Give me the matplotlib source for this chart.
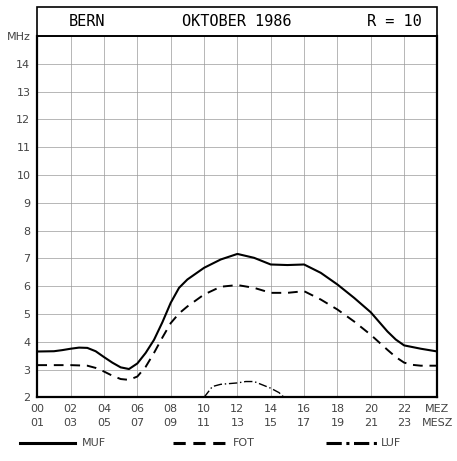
import matplotlib
matplotlib.use("Agg")
from matplotlib import pyplot as plt
from matplotlib.lines import Line2D
from matplotlib.patches import Rectangle

# Stunden (MEZ) und Frequenzen in MHz
muf_h = [0, 1, 1.5, 2, 2.5, 3, 3.5, 4, 4.5, 5, 5.5, 6, 6.5, 7, 7.5, 8, 8.5, 9, 10, 11, 12, 13, 14, 15, 16,
         17, 18, 19, 20, 21, 21.5, 22, 23, 24]
muf = [3.65, 3.66, 3.7, 3.75, 3.79, 3.78, 3.66, 3.45, 3.25, 3.08, 3.02, 3.22, 3.6, 4.07, 4.7, 5.4, 5.94,
       6.24, 6.66, 6.96, 7.16, 7.02, 6.78, 6.76, 6.78, 6.48, 6.06, 5.58, 5.06, 4.37, 4.08, 3.87, 3.75, 3.65]

fot_h = [0, 1, 2, 3, 3.5, 4, 4.5, 5, 5.5, 6, 6.5, 7, 7.5, 8, 8.5, 9, 10, 11, 12, 13, 14, 15, 16, 17, 18,
         19, 20, 21, 21.5, 22, 22.5, 23, 24]
fot = [3.16, 3.16, 3.16, 3.14, 3.06, 2.93, 2.78, 2.66, 2.63, 2.75, 3.1, 3.6, 4.15, 4.67, 5.02, 5.27, 5.7,
       5.98, 6.04, 5.94, 5.76, 5.76, 5.82, 5.52, 5.16, 4.73, 4.25, 3.71, 3.45, 3.25, 3.17, 3.14, 3.14]

luf_h = [10, 10.5, 11, 12, 12.5, 13, 14, 14.5, 14.8]
luf = [2.0, 2.39, 2.47, 2.52, 2.57, 2.57, 2.33, 2.17, 2.0]

xlab = ["00\n01", "02\n03", "04\n05", "06\n07", "08\n09", "10\n11", "12\n13",
        "14\n15", "16\n17", "18\n19", "20\n21", "22\n23", "MEZ\nMESZ"]
ylab = ["2", "3", "4", "5", "6", "7", "8", "9", "10", "11", "12", "13", "14", "MHz"]

fig = plt.figure(figsize=(4.57, 4.61), dpi=100)
ax = fig.add_axes([0.0816, 0.138, 0.8757, 0.784])

ax.plot(muf_h, muf, color="black", lw=1.5, solid_joinstyle="round")
ax.plot(fot_h, fot, color="black", lw=1.4, dashes=(5, 3.5))
ax.plot(luf_h, luf, color="black", lw=1.0, dashes=(6, 2, 1, 2))

ax.set_xlim(0, 24)
ax.set_ylim(2, 15)
ax.set_xticks(range(0, 25, 2))
ax.set_xticklabels(xlab, fontsize=8, color="#444444", linespacing=1.45)
ax.set_yticks(range(2, 16))
ax.set_yticklabels(ylab, fontsize=8, color="#444444")
ax.tick_params(length=0, pad=5)
ax.grid(True, color="#9a9a9a", lw=0.5)
for s in ["left", "bottom", "right"]:
    ax.spines[s].set_linewidth(1.6)
ax.spines["top"].set_linewidth(1.2)

# Kopfzeile
fig.add_artist(Rectangle((0.0816, 0.922), 0.8757, 0.063, transform=fig.transFigure,
                         fill=False, edgecolor="black", lw=1.2))
hy = 0.9535
hfont = dict(ha="center", va="center", family="DejaVu Sans Mono", fontsize=11)
fig.text(87 / 457, hy, "BERN", **hfont)
fig.text(237 / 457, hy, "OKTOBER 1986", **hfont)
fig.text(394 / 457, hy, "R = 10", **hfont)

# Legende
ly = 1 - 443 / 461
fig.add_artist(Line2D([20 / 457, 75 / 457], [ly, ly], color="black", lw=2.2))
fig.add_artist(Line2D([173 / 457, 230 / 457], [ly, ly], color="black", lw=2.2, dashes=(4, 2.5)))
fig.add_artist(Line2D([326 / 457, 378 / 457], [ly, ly], color="black", lw=2.2, dashes=(5, 1.5, 1, 1.5)))
fig.text(82 / 457, ly, "MUF", va="center", fontsize=8, color="#444444")
fig.text(233 / 457, ly, "FOT", va="center", fontsize=8, color="#444444")
fig.text(381 / 457, ly, "LUF", va="center", fontsize=8, color="#444444")

plt.savefig("out.png", dpi=100)
